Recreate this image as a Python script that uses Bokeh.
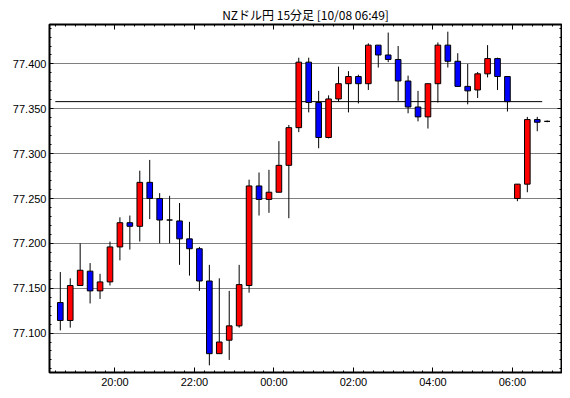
from bokeh.plotting import figure
from bokeh.models import ColumnDataSource, FixedTicker, LinearAxis, Range1d, NumeralTickFormatter, CustomJSTickFormatter
from bokeh.embed import file_html
from bokeh.resources import INLINE
import numpy as np

title_text = "NZドル円 15分足 [10/08 06:49]"

times = ["18:30", "18:45", "19:00", "19:15", "19:30", "19:45", "20:00", "20:15", "20:30", "20:45",
         "21:00", "21:15", "21:30", "21:45", "22:00", "22:15", "22:30", "22:45", "23:00", "23:15",
         "23:30", "23:45", "00:00", "00:15", "00:30", "00:45", "01:00", "01:15", "01:30", "01:45",
         "02:00", "02:15", "02:30", "02:45", "03:00", "03:15", "03:30", "03:45", "04:00", "04:15",
         "04:30", "04:45", "05:00", "05:15", "05:30", "05:45", "06:00", "06:15", "06:30", "06:45"]

opens = [77.134, 77.114, 77.153, 77.169, 77.147, 77.157, 77.196, 77.223, 77.219, 77.268,
         77.250, 77.226, 77.225, 77.205, 77.194, 77.158, 77.077, 77.092, 77.108, 77.153,
         77.264, 77.249, 77.257, 77.287, 77.329, 77.402, 77.357, 77.318, 77.361, 77.378,
         77.386, 77.378, 77.421, 77.410, 77.405, 77.381, 77.352, 77.341, 77.378, 77.421,
         77.403, 77.375, 77.371, 77.389, 77.406, 77.386, 77.250, 77.266, 77.338, 77.336]

highs = [77.168, 77.161, 77.200, 77.178, 77.166, 77.202, 77.229, 77.231, 77.281, 77.293,
         77.256, 77.253, 77.245, 77.224, 77.196, 77.176, 77.161, 77.147, 77.176, 77.271,
         77.279, 77.282, 77.314, 77.332, 77.407, 77.407, 77.370, 77.365, 77.397, 77.392,
         77.388, 77.423, 77.421, 77.435, 77.420, 77.387, 77.370, 77.378, 77.424, 77.436,
         77.412, 77.400, 77.391, 77.421, 77.407, 77.386, 77.266, 77.341, 77.341, 77.337]

lows = [77.103, 77.106, 77.153, 77.133, 77.138, 77.153, 77.181, 77.193, 77.202, 77.227,
        77.200, 77.200, 77.176, 77.164, 77.147, 77.064, 77.077, 77.070, 77.106, 77.145,
        77.231, 77.234, 77.257, 77.228, 77.324, 77.346, 77.306, 77.317, 77.358, 77.346,
        77.356, 77.371, 77.396, 77.402, 77.359, 77.345, 77.336, 77.328, 77.357, 77.396,
        77.375, 77.355, 77.362, 77.385, 77.371, 77.347, 77.247, 77.257, 77.325, 77.335]

closes = [77.114, 77.153, 77.170, 77.147, 77.157, 77.196, 77.223, 77.219, 77.268, 77.250,
          77.226, 77.226, 77.205, 77.194, 77.158, 77.077, 77.090, 77.108, 77.154, 77.264,
          77.249, 77.257, 77.287, 77.329, 77.402, 77.357, 77.318, 77.361, 77.378, 77.386,
          77.378, 77.421, 77.410, 77.405, 77.381, 77.352, 77.341, 77.378, 77.421, 77.403,
          77.375, 77.370, 77.389, 77.406, 77.386, 77.358, 77.266, 77.338, 77.335, 77.336]

ref_level = 77.358
ref_start, ref_end = "18:30", "06:45"

x_tick_labels = ["20:00", "22:00", "00:00", "02:00", "04:00", "06:00"]
y_tick_values = [77.100, 77.150, 77.200, 77.250, 77.300, 77.350, 77.400]


def to_min(t):
    h, m = map(int, t.split(":"))
    return ((h - 18) % 24) * 60 + m


xs = [to_min(t) + 7.5 for t in times]
tops = [max(o, c) for o, c in zip(opens, closes)]
bots = [min(o, c) for o, c in zip(opens, closes)]
cols = ["#0000ff" if c < o else "#ff0000" for o, c in zip(opens, closes)]
src = ColumnDataSource(dict(x=xs, o=opens, h=highs, l=lows, c=closes, top=tops, bot=bots, col=cols))

p = figure(width=562, height=390, output_backend="svg", toolbar_location=None,
           x_range=Range1d(21.2, 794.1), y_range=Range1d(77.056, 77.444),
           min_border_left=49, min_border_right=1, min_border_top=24, min_border_bottom=15,
           background_fill_color="white", border_fill_color="white")

bottom_ax = p.below[0]
left_ax = p.left[0]

p.title.text = title_text
p.title.align = "center"
p.title.text_font = "Noto Sans CJK JP"
p.title.text_font_size = "12px"
p.title.text_font_style = "normal"
p.title.text_color = "black"
p.title.standoff = 4
p.title.offset = 0

p.outline_line_color = "black"
p.outline_line_width = 2
p.outline_line_alpha = 1

major_x = [to_min(t) for t in x_tick_labels]
minor_x = list(range(30, 795, 15))
xticker = FixedTicker(ticks=major_x, minor_ticks=minor_x)
x_fmt = CustomJSTickFormatter(args=dict(vals=major_x, labs=x_tick_labels), code="""
    const i = vals.indexOf(Math.round(tick));
    return i >= 0 ? labs[i] : '';
""")
blank_fmt = CustomJSTickFormatter(code="return '';")

minor_y = [round(v, 3) for v in np.arange(77.06, 77.4451, 0.01)]
yticker = FixedTicker(ticks=y_tick_values, minor_ticks=minor_y)

top_ax = LinearAxis()
right_ax = LinearAxis()
p.add_layout(top_ax, "above")
p.add_layout(right_ax, "right")

for ax in [bottom_ax, top_ax]:
    ax.ticker = xticker
    ax.major_tick_in = 5
    ax.major_tick_out = 0
    ax.minor_tick_in = 2
    ax.minor_tick_out = 0
bottom_ax.formatter = x_fmt

for ax in [left_ax, right_ax]:
    ax.ticker = yticker
    ax.major_tick_in = 4
    ax.major_tick_out = 0
    ax.minor_tick_in = 2
    ax.minor_tick_out = 0
left_ax.formatter = NumeralTickFormatter(format="0.000")

for ax in [bottom_ax, left_ax, top_ax, right_ax]:
    ax.axis_line_color = "black"
    ax.axis_line_width = 1
    ax.major_tick_line_color = "black"
    ax.minor_tick_line_color = "black"
    ax.major_label_text_font = "Liberation Sans"
    ax.major_label_text_font_size = "11px"
    ax.major_label_text_color = "black"
    ax.major_label_standoff = 3

for ax in [top_ax, right_ax]:
    ax.formatter = blank_fmt
    ax.major_label_standoff = 0

p.xgrid.visible = False
p.ygrid.ticker = yticker
p.ygrid.grid_line_color = "black"
p.ygrid.grid_line_dash = "1 1"
p.ygrid.grid_line_width = 1

p.segment(x0=[to_min(ref_start)], x1=[to_min(ref_end)], y0=[ref_level], y1=[ref_level],
          line_color="black", line_width=1)

p.segment(x0="x", y0="l", x1="x", y1="h", source=src, line_color="black", line_width=1)
p.vbar(x="x", width=8.5, top="top", bottom="bot", source=src,
       fill_color="col", line_color="black", line_width=1)

open("out.html", "w").write(file_html(p, INLINE))
